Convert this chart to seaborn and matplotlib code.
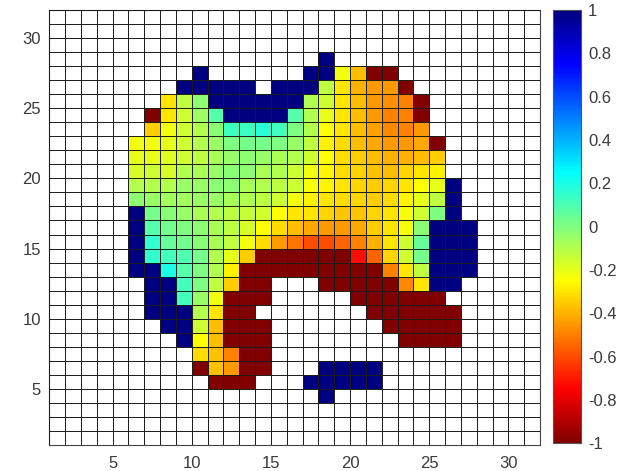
# Recreate a MATLAB-style pcolor grid with a jet colour bar

import numpy as np
import matplotlib
matplotlib.use('Agg')
import matplotlib.pyplot as plt
from matplotlib.colors import LinearSegmentedColormap
import seaborn as sns

n = np.nan

# grid of 31 x 31 cells spanning 1..32 on both axes
n_cells = 31
x_ticks = [5, 10, 15, 20, 25, 30]
y_ticks = [5, 10, 15, 20, 25, 30]
cbar_ticks = [1, 0.8, 0.6, 0.4, 0.2, 0, -0.2, -0.4, -0.6, -0.8, -1]
cbar_labels = ['1', '0.8', '0.6', '0.4', '0.2', '0', '-0.2', '-0.4', '-0.6', '-0.8', '-1']

# each row: (first x cell, values from there on); row number = y cell
y28 = (18, [1])
y27 = (10, [1, n, n, n, n, n, n, 1, 1, -0.22, -0.38, -1, -1])
y26 = (9, [1, 1, 1, 1, 1, n, 1, 1, 1, -0.12, -0.3, -0.4, -0.45, -0.45, -1])
y25 = (8, [-0.3, -0.12, -0.03, 1, 1, 1, 1, 1, 1, -0.1, -0.15, -0.3, -0.38, -0.45, -0.47, -0.5, -1])
y24 = (7, [-1, -0.3, -0.15, -0.06, 0.08, 1, 1, 1, 1, 0.08, -0.1, -0.2, -0.3, -0.38, -0.45, -0.5, -0.5, -1])
y23 = (7, [-0.35, -0.22, -0.15, -0.1, -0.02, 0.13, 0.13, 0.17, 0.12, 0.0, -0.1, -0.25, -0.3, -0.38, -0.43, -0.48, -0.5, -0.45])
y22 = (6, [-0.22, -0.22, -0.2, -0.15, -0.1, -0.05, 0.0, 0.02, 0.02, 0.0, -0.05, -0.12, -0.28, -0.32, -0.38, -0.42, -0.45, -0.45, -0.42, -1])
y21 = (6, [-0.2, -0.2, -0.18, -0.15, -0.12, -0.08, -0.05, -0.03, -0.05, -0.08, -0.1, -0.15, -0.25, -0.32, -0.35, -0.38, -0.4, -0.4, -0.38, -0.35])
y20 = (6, [-0.17, -0.15, -0.17, -0.1, -0.08, -0.05, -0.02, -0.03, -0.08, -0.1, -0.15, -0.22, -0.27, -0.32, -0.33, -0.37, -0.38, -0.33, -0.3, -0.28])
y19 = (6, [-0.1, -0.1, -0.1, -0.05, -0.05, -0.03, -0.03, -0.08, -0.1, -0.12, -0.15, -0.23, -0.27, -0.3, -0.33, -0.35, -0.33, -0.3, -0.25, -0.2, 1])
y18 = (6, [-0.03, -0.05, -0.07, -0.07, -0.05, -0.05, -0.08, -0.1, -0.12, -0.15, -0.22, -0.28, -0.3, -0.32, -0.33, -0.35, -0.32, -0.27, -0.2, -0.12, 1])
y17 = (6, [1, 0.02, -0.02, -0.05, -0.08, -0.1, -0.12, -0.14, -0.16, -0.25, -0.3, -0.3, -0.33, -0.36, -0.36, -0.33, -0.3, -0.23, -0.15, 0.0, 1])
y16 = (6, [1, 0.08, 0.03, 0.0, -0.03, -0.08, -0.12, -0.17, -0.25, -0.32, -0.38, -0.42, -0.45, -0.45, -0.42, -0.35, -0.3, -0.23, -0.02, 1, 1, 1])
y15 = (6, [1, 0.15, 0.05, 0.03, -0.02, -0.08, -0.13, -0.22, -0.32, -0.45, -0.52, -0.6, -0.6, -0.55, -0.5, -0.4, -0.3, -0.15, 0.05, 1, 1, 1])
y14 = (6, [1, 0.15, 0.12, 0.1, 0.02, -0.1, -0.2, -0.35, -1, -1, -1, -1, -1, -1, -0.72, -0.55, -0.33, -0.15, 0.02, 1, 1, 1])
y13 = (6, [1, 1, 0.2, 0.08, 0.0, -0.1, -0.28, -1, -1, -1, -1, -1, -1, -1, -1, -1, -0.5, -0.3, -0.12, 1, 1, 1])
y12 = (7, [1, 1, 0.12, 0.0, -0.13, -0.35, -1, -1, n, n, n, -1, -1, -1, -1, -1, -0.48, -0.3, 1, 1])
y11 = (7, [1, 1, 0.12, -0.05, -0.22, -1, -1, -1, n, n, n, n, n, -1, -1, -1, -1, -1, -1])
y10 = (7, [1, 1, 1, -0.1, -0.3, -1, -1, n, n, n, n, n, n, n, -1, -1, -1, -1, -1, -1])
y09 = (8, [1, 1, -0.15, -0.38, -1, -1, -1, n, n, n, n, n, n, n, -1, -1, -1, -1, -1])
y08 = (9, [1, -0.25, -0.38, -1, -1, -1, n, n, n, n, n, n, n, n, -1, -1, -1, -1])
y07 = (10, [-0.32, -0.37, -0.5, -1, -1])
y06 = (10, [-1, -0.37, -0.45, -1, -1, n, n, n, 1, 1, 1, 1])
y05 = (11, [-1, -1, -1, n, n, n, 1, 1, 1, 1, 1])
y04 = (18, [1])

rows = {28: y28, 27: y27, 26: y26, 25: y25, 24: y24, 23: y23, 22: y22,
        21: y21, 20: y20, 19: y19, 18: y18, 17: y17, 16: y16, 15: y15,
        14: y14, 13: y13, 12: y12, 11: y11, 10: y10, 9: y09, 8: y08,
        7: y07, 6: y06, 5: y05, 4: y04}

grid = np.full((n_cells, n_cells), np.nan)
for y, (x0, vals) in rows.items():
    grid[y - 1, x0 - 1:x0 - 1 + len(vals)] = vals

# MATLAB's jet (differs a little from matplotlib's), reversed: 1 = dark blue
matlab_jet = LinearSegmentedColormap('matlab_jet', {
    'red':   [(0, 0, 0), (3 / 8, 0, 0), (5 / 8, 1, 1), (7 / 8, 1, 1), (1, 0.5, 0.5)],
    'green': [(0, 0, 0), (1 / 8, 0, 0), (3 / 8, 1, 1), (5 / 8, 1, 1), (7 / 8, 0, 0), (1, 0, 0)],
    'blue':  [(0, 0.5, 0.5), (1 / 8, 1, 1), (3 / 8, 1, 1), (5 / 8, 0, 0), (1, 0, 0)],
}, N=256).reversed()

sns.set_style('white')
plt.rcParams['font.family'] = ['Liberation Sans', 'DejaVu Sans']
plt.rcParams['axes.unicode_minus'] = False
text_color = '#3a3a3a'

fig = plt.figure(figsize=(6.31, 4.71), dpi=100)
ax = fig.add_axes([0.078, 0.055, 0.778, 0.924])
cax = fig.add_axes([0.877, 0.059, 0.044, 0.92])

sns.heatmap(grid, ax=ax, cbar_ax=cax, cmap=matlab_jet, vmin=-1, vmax=1,
            xticklabels=False, yticklabels=False)
ax.invert_yaxis()

# black cell edges everywhere, including the empty cells
ax.set_xticks(np.arange(n_cells + 1), minor=True)
ax.set_yticks(np.arange(n_cells + 1), minor=True)
ax.set_xticks([t - 1 for t in x_ticks])
ax.set_xticklabels([str(t) for t in x_ticks])
ax.set_yticks([t - 1 for t in y_ticks])
ax.set_yticklabels([str(t) for t in y_ticks], rotation=0)
ax.grid(which='both', color='#1a1a1a', linewidth=0.7)
ax.set_axisbelow(False)
ax.set_facecolor('white')

ax.tick_params(which='major', direction='in', length=3, labelsize=12,
               colors=text_color)
ax.tick_params(axis='x', which='major', pad=8)
ax.tick_params(axis='y', which='major', pad=6)
ax.tick_params(which='minor', length=0)
for s in ax.spines.values():
    s.set_visible(True)
    s.set_color('#444444')
    s.set_linewidth(0.8)

cbar = ax.collections[0].colorbar
cbar.set_ticks(cbar_ticks)
cbar.set_ticklabels(cbar_labels)
cbar.ax.tick_params(direction='in', length=3, labelsize=12, colors=text_color, pad=5)
cbar.outline.set_visible(True)
cbar.outline.set_linewidth(0.8)
cbar.outline.set_edgecolor('#555555')

fig.savefig('out.png', dpi=100)
